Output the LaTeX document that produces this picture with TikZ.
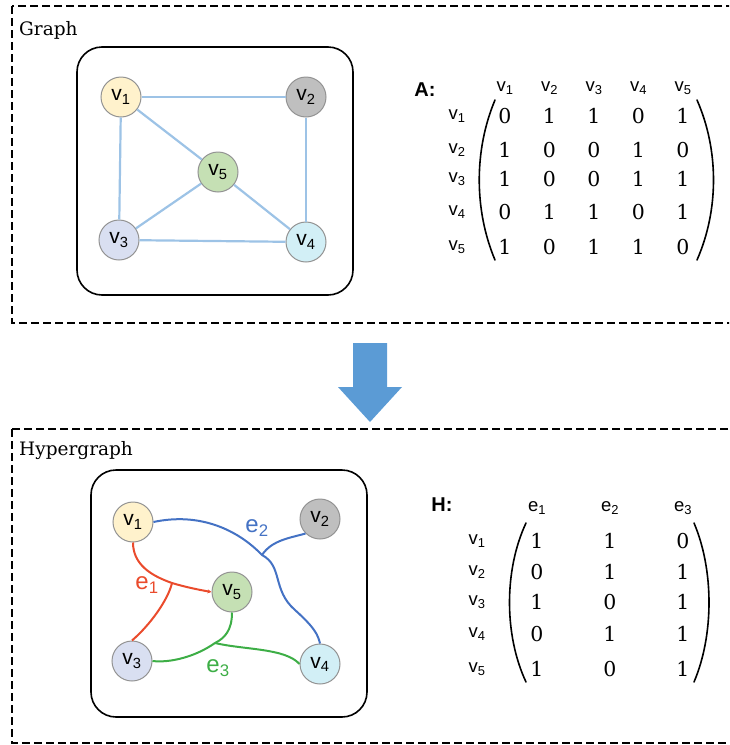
\documentclass[tikz,border=0pt]{standalone}
\usepackage{fontspec}
\setsansfont{Liberation Sans}
\newfontfamily\numfont{DejaVu Serif}
\usetikzlibrary{arrows.meta}

\definecolor{edgeblue}{HTML}{9DC3E6}
\definecolor{arrowblue}{HTML}{5B9BD5}
\definecolor{hblue}{HTML}{4472C4}
\definecolor{hred}{HTML}{EA4B2C}
\definecolor{hgreen}{HTML}{3DAE46}
\definecolor{cyellow}{HTML}{FFF2CC}
\definecolor{cgrey}{HTML}{BFBFBF}
\definecolor{clav}{HTML}{D9DFF1}
\definecolor{ccyan}{HTML}{D2EFF6}
\definecolor{cgreen}{HTML}{C5E0B4}

\tikzset{
  vtx/.style={circle, draw=gray!85, line width=1pt, minimum size=40pt, inner sep=0pt,
    font=\sffamily\fontsize{21}{21}\selectfont},
  gedge/.style={draw=edgeblue, line width=2.2pt},
  hedge/.style={line width=2pt},
  frame/.style={line width=1.5pt, dash pattern=on 8pt off 4pt},
  panel/.style={line width=1.6pt, rounded corners=25pt},
  title/.style={anchor=base west, inner sep=0pt, font=\numfont\fontsize{18.5}{22}\selectfont},
  lbl/.style={inner sep=0pt, font=\sffamily\fontsize{18.5}{18.5}\selectfont},
  mname/.style={inner sep=0pt, font=\sffamily\bfseries\fontsize{20}{20}\selectfont},
  ent/.style={inner sep=0pt, font=\numfont\fontsize{20.5}{20.5}\selectfont},
  elbl/.style={inner sep=0pt, font=\sffamily\fontsize{24}{24}\selectfont},
  paren/.style={line width=1.6pt, line cap=round},
}

\begin{document}
\begin{tikzpicture}[x=1pt,y=-1pt]
\useasboundingbox (0,0) rectangle (729,745);
\clip (0,0) rectangle (729,745);

% dashed frames, open on the right
\draw[frame] (12,6) rectangle (740,323);
\draw[frame] (12,429) rectangle (740,743);
\node[title] (gtitle) at (19,35) {Graph};
\node[title] (htitle) at (19,455) {Hypergraph};

%%% simple graph
\draw[panel] (77,47) rectangle (353,295);
\node[vtx, fill=cyellow] (g1) at (121,97) {v\textsubscript{1}};
\node[vtx, fill=cgrey]   (g2) at (306,97) {v\textsubscript{2}};
\node[vtx, fill=clav]    (g3) at (119,240) {v\textsubscript{3}};
\node[vtx, fill=ccyan]   (g4) at (306,242) {v\textsubscript{4}};
\node[vtx, fill=cgreen]  (g5) at (218,172) {v\textsubscript{5}};
\foreach \a/\b in {1/2,1/3,1/5,2/4,3/4,3/5,4/5}
  \draw[gedge] (g\a) -- (g\b);

% adjacency matrix
\node[mname] (aname) at (425,90) {A:};
\foreach \c in {1,...,5}
  \node[lbl] (ac\c) at ({505+(\c-1)*44.5},88) {v\textsubscript{\c}};
\foreach \r/\y/\row in {1/116/{0,1,1,0,1},2/150/{1,0,0,1,0},3/179/{1,0,0,1,1},
                        4/212/{0,1,1,0,1},5/247/{1,0,1,1,0}} {
  \node[lbl] (ar\r) at (457,\y) {v\textsubscript{\r}};
  \foreach \e [count=\c] in \row
    \node[ent] (a\r\c) at ({505+(\c-1)*44.5},\y) {\e};
}
\draw[paren] (495,100) .. controls (474,150) and (474,210) .. (495,260);
\draw[paren] (697,100) .. controls (719,150) and (719,210) .. (697,260);

% arrow between the two panels
\fill[arrowblue] (353,343) -- (387,343) -- (387,387) -- (402,387) -- (370,422)
  -- (338,387) -- (353,387) -- cycle;

%%% hypergraph
\draw[panel] (91,470) rectangle (367,717);
\node[vtx, fill=cyellow] (h1) at (133,522) {v\textsubscript{1}};
\node[vtx, fill=cgrey]   (h2) at (320,519) {v\textsubscript{2}};
\node[vtx, fill=clav]    (h3) at (132,661) {v\textsubscript{3}};
\node[vtx, fill=ccyan]   (h4) at (320,664) {v\textsubscript{4}};
\node[vtx, fill=cgreen]  (h5) at (232,592) {v\textsubscript{5}};

% branch points of the hyperedges
\coordinate (j1) at (172,583);
\coordinate (j2) at (262,555);
\coordinate (j3) at (215,643);

% e1 = {v1,v3,v5}
\draw[hedge, hred, -{Stealth[length=4pt,width=4pt]}] (h1.south) .. controls (133,565) and (152,576) .. (j1)
  .. controls (185,587) and (200,590) .. (h5.west);
\draw[hedge, hred] (j1) .. controls (168,600) and (150,625) .. (h3.north);
% e2 = {v1,v2,v4}
\draw[hedge, hblue] (h1.east) .. controls (200,512) and (238,530) .. (j2)
  .. controls (283,566) and (272,590) .. (295,610) .. controls (315,628) and (318,635) .. (h4.north);
\draw[hedge, hblue] (j2) .. controls (272,540) and (290,538) .. (h2.south west);
% e3 = {v3,v4,v5}
\draw[hedge, hgreen] (h5.south) .. controls (232,630) and (225,638) .. (j3)
  .. controls (195,657) and (170,663) .. (h3.east);
\draw[hedge, hgreen] (j3) .. controls (245,650) and (285,648) .. (h4.west);

\node[elbl, hred]   (e1) at (147,585) {e\textsubscript{1}};
\node[elbl, hblue]  (e2) at (257,528) {e\textsubscript{2}};
\node[elbl, hgreen] (e3) at (218,668) {e\textsubscript{3}};

% incidence matrix
\node[mname] (hname) at (442,505) {H:};
\foreach \c in {1,2,3}
  \node[lbl] (hc\c) at ({537+(\c-1)*73},508) {e\textsubscript{\c}};
\foreach \r/\y/\row in {1/541/{1,1,0},2/572/{0,1,1},3/602/{1,0,1},
                        4/634/{0,1,1},5/669/{1,0,1}} {
  \node[lbl] (hr\r) at (477,\y) {v\textsubscript{\r}};
  \foreach \e [count=\c] in \row
    \node[ent] (b\r\c) at ({537+(\c-1)*73},\y) {\e};
}
\draw[paren] (526,523) .. controls (504,570) and (504,635) .. (526,682);
\draw[paren] (694,523) .. controls (714,570) and (714,635) .. (694,682);
\end{tikzpicture}
\end{document}
